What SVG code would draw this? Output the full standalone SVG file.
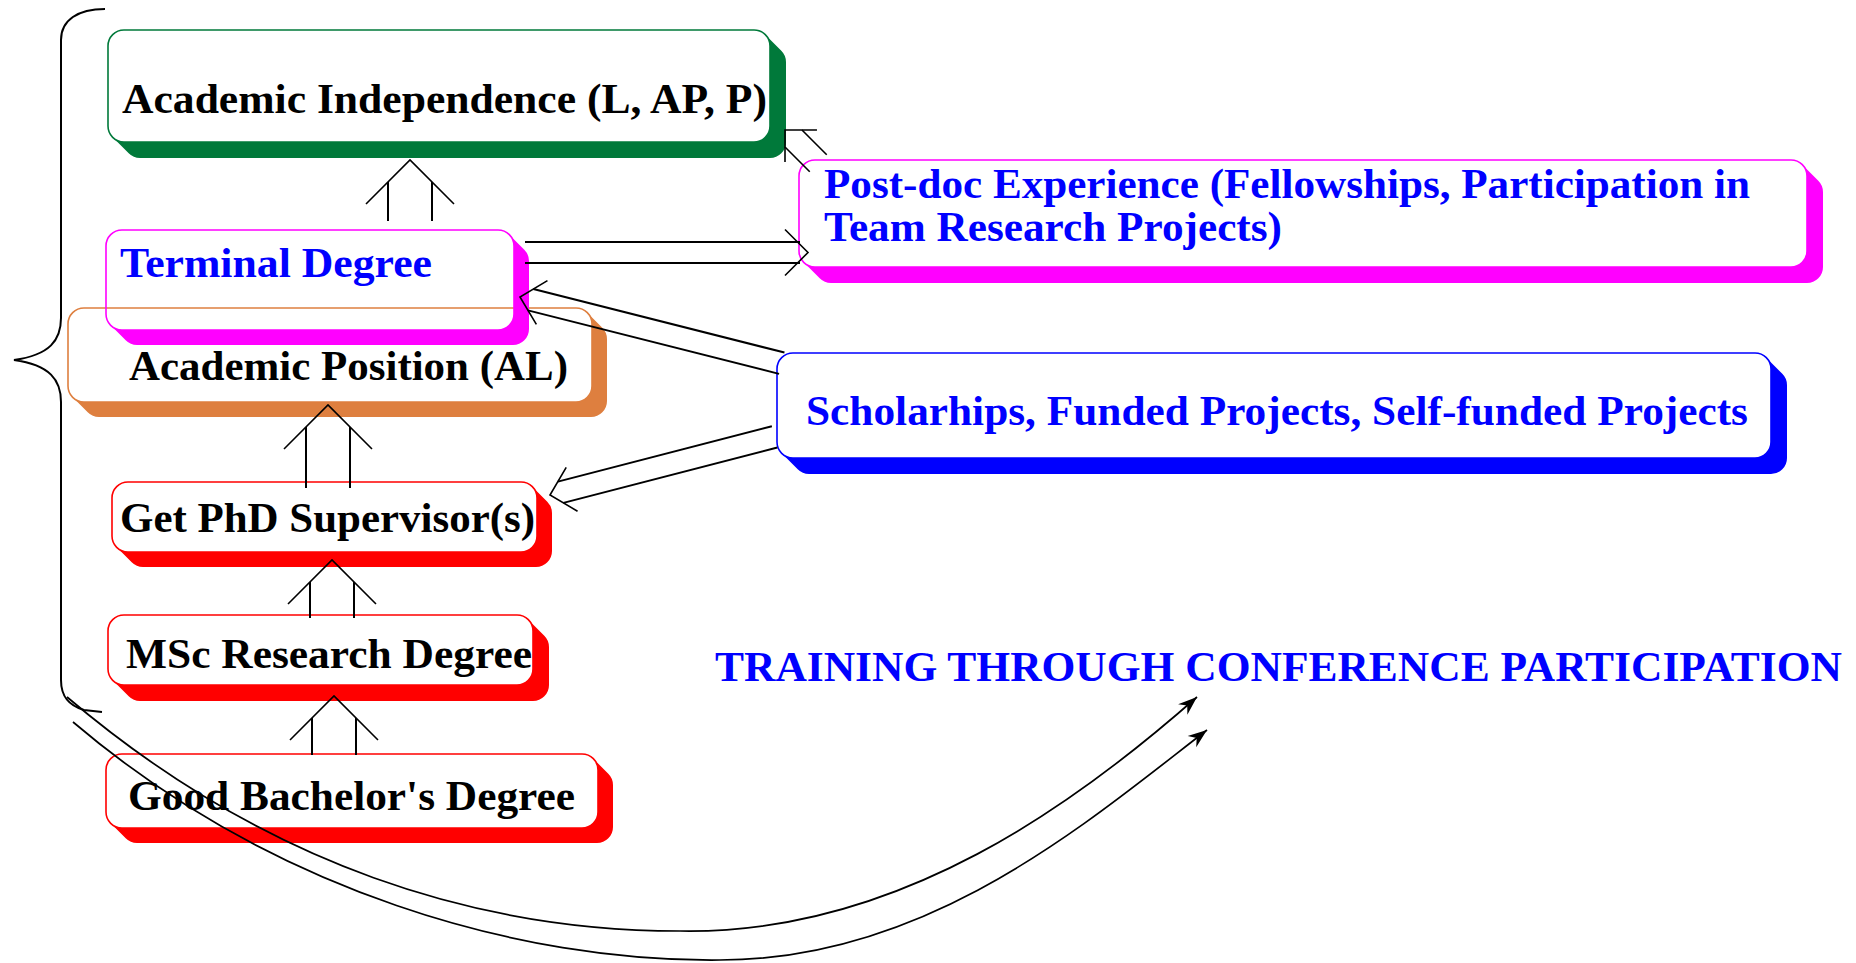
<svg xmlns="http://www.w3.org/2000/svg" width="1856" height="963" viewBox="0 0 1856 963">
<defs>
<style>
.bg{fill:#ffffff}
.box{fill:#ffffff;stroke-width:1.6}
.t{font-family:"Liberation Serif","Times New Roman",serif;font-weight:bold;font-size:42px}
.k{fill:#000000}
.b{fill:#0000ff}
.ln{fill:none;stroke:#000000;stroke-width:2}
.hd{fill:none;stroke:#000000;stroke-width:1.6}
.cv{fill:none;stroke:#000000;stroke-width:1.7}
</style>
<marker id="ah" viewBox="-20 -8 22 16" refX="0" refY="0" markerWidth="22" markerHeight="16" markerUnits="userSpaceOnUse" orient="auto">
<path d="M0,0 L-19,-7 L-13,0 L-19,7 Z" fill="#000000"/>
</marker>
</defs>
<rect class="bg" x="0" y="0" width="1856" height="963"/>

<g id="brace">
<path class="ln" d="M105,9 C78,9 61,20 61,40 L61,318 C61,340 50,355 14,360 C50,365 61,380 61,402 L61,680 C61,698 70,706 84,710 L102,712"/>
</g>

<g id="node-academic-independence">
<path fill="#00793a" d="M765.3,34.7 l16,16 a16,16 0 0 1 4.7,11.3 v80 a16,16 0 0 1 -16,16 h-630 a16,16 0 0 1 -11.3,-4.7 l-16,-16 Z"/>
<rect class="box" x="108" y="30" width="662" height="112" rx="16" stroke="#00793a"/>
<text class="t k" x="122" y="113" textLength="645" lengthAdjust="spacingAndGlyphs">Academic Independence (L, AP, P)</text>
</g>

<g id="node-postdoc">
<path fill="#ff00ff" d="M1802.3,164.7 l16,16 a16,16 0 0 1 4.7,11.3 v75 a16,16 0 0 1 -16,16 h-976 a16,16 0 0 1 -11.3,-4.7 l-16,-16 Z"/>
<rect class="box" x="799" y="160" width="1008" height="107" rx="16" stroke="#ff00ff"/>
<text class="t b" x="824" y="198" textLength="926" lengthAdjust="spacingAndGlyphs">Post-doc Experience (Fellowships, Participation in</text>
<text class="t b" x="824" y="241" textLength="458" lengthAdjust="spacingAndGlyphs">Team Research Projects)</text>
</g>

<g id="node-scholarships">
<path fill="#0000ff" d="M1766.3,357.7 l16,16 a16,16 0 0 1 4.7,11.3 v73 a16,16 0 0 1 -16,16 h-962 a16,16 0 0 1 -11.3,-4.7 l-16,-16 Z"/>
<rect class="box" x="777" y="353" width="994" height="105" rx="16" stroke="#0000ff"/>
<text class="t b" x="806" y="425" font-size="41" textLength="942" lengthAdjust="spacingAndGlyphs">Scholarhips, Funded Projects, Self-funded Projects</text>
</g>

<g id="node-academic-position">
<path fill="#de7f3f" d="M587.3,312.7 l15,15 a16,16 0 0 1 4.7,11.3 v62 a16,16 0 0 1 -16,16 h-492 a16,16 0 0 1 -11.3,-4.7 l-15,-15 Z"/>
<rect class="box" x="68" y="308" width="524" height="94" rx="16" stroke="#de7f3f"/>
<text class="t k" x="129" y="380" textLength="439" lengthAdjust="spacingAndGlyphs">Academic Position (AL)</text>
</g>

<g id="node-terminal-degree">
<path fill="#ff00ff" d="M509.3,234.7 l15,15 a16,16 0 0 1 4.7,11.3 v68 a16,16 0 0 1 -16,16 h-376 a16,16 0 0 1 -11.3,-4.7 l-15,-15 Z"/>
<rect x="106" y="230" width="408" height="100" rx="16" fill="#ffffff"/>
<line x1="106" y1="308" x2="514" y2="308" stroke="#de7f3f" stroke-width="1.6"/>
<rect x="106" y="230" width="408" height="100" rx="16" fill="none" stroke="#ff00ff" stroke-width="1.6"/>
<text class="t b" x="120" y="277" font-size="41" textLength="312" lengthAdjust="spacingAndGlyphs">Terminal Degree</text>
</g>

<g id="node-phd-supervisor">
<path fill="#ff0000" d="M532.3,486.7 l15,15 a16,16 0 0 1 4.7,11.3 v38 a16,16 0 0 1 -16,16 h-393 a16,16 0 0 1 -11.3,-4.7 l-15,-15 Z"/>
<rect class="box" x="112" y="482" width="425" height="70" rx="16" stroke="#ff0000"/>
<text class="t k" x="120" y="532" font-size="41" textLength="415" lengthAdjust="spacingAndGlyphs">Get PhD Supervisor(s)</text>
</g>

<g id="node-msc">
<path fill="#ff0000" d="M528.3,619.7 l16,16 a16,16 0 0 1 4.7,11.3 v38 a16,16 0 0 1 -16,16 h-393 a16,16 0 0 1 -11.3,-4.7 l-16,-16 Z"/>
<rect class="box" x="108" y="615" width="425" height="70" rx="16" stroke="#ff0000"/>
<text class="t k" x="126" y="668" textLength="406" lengthAdjust="spacingAndGlyphs">MSc Research Degree</text>
</g>

<g id="node-bachelor">
<path fill="#ff0000" d="M593.3,758.7 l15,15 a16,16 0 0 1 4.7,11.3 v42 a16,16 0 0 1 -16,16 h-460 a16,16 0 0 1 -11.3,-4.7 l-15,-15 Z"/>
<rect class="box" x="106" y="754" width="492" height="74" rx="16" stroke="#ff0000"/>
<text class="t k" x="128" y="810" font-size="41" textLength="447" lengthAdjust="spacingAndGlyphs">Good Bachelor's Degree</text>
</g>

<g id="label-training">
<text class="t b" x="715" y="681" font-size="44" textLength="1127" lengthAdjust="spacingAndGlyphs">TRAINING THROUGH CONFERENCE PARTICIPATION</text>
</g>

<g id="connectors">
<g transform="translate(410,160) rotate(-90)">
<path class="hd" d="M-44,-44 L0,0 L-44,44"/>
<path class="ln" d="M-22,-22 L-61,-22 M-22,22 L-61,22"/>
</g>
<g transform="translate(328,405) rotate(-90)">
<path class="hd" d="M-44,-44 L0,0 L-44,44"/>
<path class="ln" d="M-22,-22 L-83,-22 M-22,22 L-83,22"/>
</g>
<g transform="translate(332,560) rotate(-90)">
<path class="hd" d="M-44,-44 L0,0 L-44,44"/>
<path class="ln" d="M-22,-22 L-58,-22 M-22,22 L-58,22"/>
</g>
<g transform="translate(334,696) rotate(-90)">
<path class="hd" d="M-44,-44 L0,0 L-44,44"/>
<path class="ln" d="M-22,-22 L-59,-22 M-22,22 L-59,22"/>
</g>
<g transform="translate(808,252.5)">
<path class="hd" d="M-23,-23 L0,0 L-23,23"/>
<path class="ln" d="M-8,-10.5 L-283,-10.5 M-8,10.5 L-283,10.5"/>
</g>
<g transform="translate(785,130) rotate(-135)">
<path class="hd" d="M-22.6,-22.6 L0,0 L-22.6,22.6"/>
<path class="hd" d="M-12,-12 L-47,-12 M-12,12 L-47,12"/>
</g>
<g transform="translate(520,297) rotate(194.2)">
<path class="hd" d="M-22.6,-22.6 L0,0 L-22.6,22.6"/>
<path class="ln" d="M-11,-11 L-270,-11 M-11,11 L-270,11"/>
</g>
<g transform="translate(550,495) rotate(165.5)">
<path class="hd" d="M-22.6,-22.6 L0,0 L-22.6,22.6"/>
<path class="ln" d="M-11,-11 L-232,-11 M-11,11 L-232,11"/>
</g>
<path class="cv" marker-end="url(#ah)" d="M67,697 C267,867 480,931 680,931 C900,935 1080,800 1197,697"/>
<path class="cv" marker-end="url(#ah)" d="M73,722 C273,892 520,962 720,960 C930,960 1090,820 1207,730"/>
</g>
</svg>
